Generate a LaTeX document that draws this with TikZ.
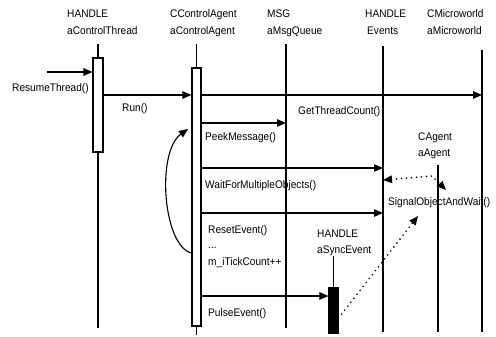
\documentclass[tikz,border=0pt]{standalone}
\usepackage{fontspec}
\setmainfont{Liberation Sans}[FakeStretch=0.92]
\usetikzlibrary{arrows.meta}

\begin{document}
\begin{tikzpicture}[x=1pt,y=-1pt,
        every node/.style={inner sep=0pt,anchor=base west,font=\fontsize{11}{13}\selectfont},
        life/.style={line width=1.1pt},
        actbox/.style={draw,line width=1.1pt,anchor=center,minimum width=9pt},
        msg/.style={line width=1.1pt,-{Triangle[length=9pt,width=7.5pt]}},
        sig/.style={line width=1.8pt,dash pattern=on 0pt off 5pt,line cap=round}]
        \fill[white] (0,0) rectangle (496,337);
        \useasboundingbox (0,0) rectangle (496,337);

        \draw (67,18) node (threadcls) {HANDLE};
        \draw (67,35) node (threadobj) {aControlThread};
        \draw (170,18) node (agentcls) {CControlAgent};
        \draw (170,35) node (agentobj) {aControlAgent};
        \draw (267,18) node (queuecls) {MSG};
        \draw (267,35) node (queueobj) {aMsgQueue};
        \draw (365,18) node (eventscls) {HANDLE};
        \draw (367,35) node (eventsobj) {Events};
        \draw (427,18) node (worldcls) {CMicroworld};
        \draw (427,35) node (worldobj) {aMicroworld};
        \draw (418,140) node (acls) {CAgent};
        \draw (418,157) node (aobj) {aAgent};
        \draw (317,237) node (synccls) {HANDLE};
        \draw (317,253) node (syncobj) {aSyncEvent};

        \draw[life] (98,44) -- (98,328);
        \draw[life] (196.5,44) -- (196.5,335);
        \draw[life] (286,44) -- (286,328);
        \draw[life] (383,46) -- (383,332);
        \draw[life] (482,50) -- (482,332);
        \draw[life] (438,165) -- (438,332);
        \draw[life] (333.5,256) -- (333.5,290);

        \node[actbox,fill=white,minimum width=10pt,minimum height=94pt] (threadbox) at (98,105) {};
        \node[actbox,fill=white,minimum height=258pt] (agentbox) at (196.5,197) {};
        \node[actbox,fill=black,minimum height=45pt] (syncbox) at (333.5,310.5) {};

        \coordinate (resume) at (47,72);
        \coordinate (worldrun) at (482,95);
        \coordinate (queuepeek) at (286,123);
        \coordinate (eventswait) at (383,168);
        \coordinate (eventsreset) at (383,213);
        \coordinate (evsig) at (383,180);
        \coordinate (sigbend) at (432,176);
        \coordinate (agentsig) at (446,190);
        \coordinate (sigwait) at (418,216);
        \coordinate (looptop) at (188,129);

        \draw[msg] (resume) -- (resume -| threadbox.west);
        \draw[msg] (threadbox.east |- worldrun) -- (agentbox.west |- worldrun);
        \draw[msg] (agentbox.east |- worldrun) -- (worldrun);
        \draw[msg] (agentbox.east |- queuepeek) -- (queuepeek);
        \draw[msg] (agentbox.east |- eventswait) -- (eventswait);
        \draw[msg] (agentbox.east |- eventsreset) -- (eventsreset);
        \draw[msg] (agentbox.east |- 0,296) -- (syncbox.west |- 0,296);
        \draw[msg] (agentbox.west |- 0,253) .. controls (163,246) and (156,152) .. (looptop);
        \draw[sig,{Triangle[length=9pt,width=7.5pt]}-{Triangle[length=9pt,width=7.5pt]}] (evsig) -- (sigbend) -- (agentsig);
        \draw[sig,-{Triangle[length=9pt,width=7.5pt]}] (syncbox.east |- 0,318) -- (sigwait);

        \draw (12,92) node (resumelbl) {ResumeThread()};
        \draw (122,112) node (runlbl) {Run()};
        \draw (298,115) node (countlbl) {GetThreadCount()};
        \draw (205,140) node (peeklbl) {PeekMessage()};
        \draw (205,188) node (waitlbl) {WaitForMultipleObjects()};
        \draw (388,205) node (signallbl) {SignalObjectAndWait()};
        \draw (208,233) node (resetlbl) {ResetEvent()};
        \draw (208,248) node (dotslbl) {...};
        \draw (208,265) node (ticklbl) {m\_iTickCount++};
        \draw (208,316) node (pulselbl) {PulseEvent()};
    \end{tikzpicture}
\end{document}
